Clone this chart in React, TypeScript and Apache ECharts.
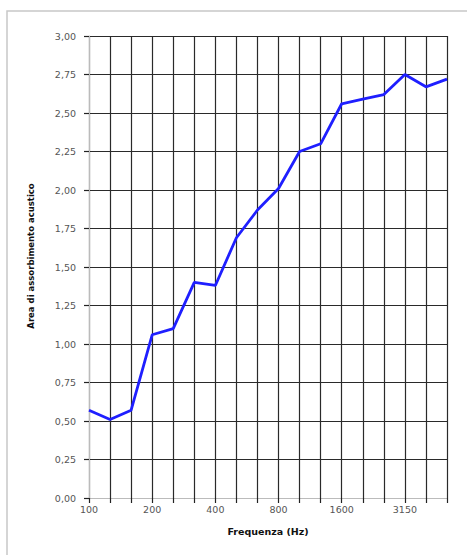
import React, { useEffect, useRef } from "react";
import * as echarts from "echarts";

const frequencies: string[] = [
  "100", "125", "160", "200", "250", "315", "400", "500", "630",
  "800", "1000", "1250", "1600", "2000", "2500", "3150", "4000", "5000",
];
const absorption: number[] = [
  0.57, 0.51, 0.57, 1.06, 1.1, 1.4, 1.38, 1.69, 1.87,
  2.01, 2.25, 2.3, 2.56, 2.59, 2.62, 2.75, 2.67, 2.72,
];
const yMin = 0;
const yMax = 3;
const yStep = 0.25;
const xTitle = "Frequenza (Hz)";
const yTitle = "Area di assorbimento acustico";

export default function App() {
  const ref = useRef<HTMLDivElement>(null);
  useEffect(() => {
    if (!ref.current) return;
    const chart = echarts.init(ref.current, null, { renderer: "svg" });
    const font = "'DejaVu Sans', sans-serif";
    chart.setOption({
      animation: false,
      backgroundColor: "#ffffff",
      graphic: [
        {
          type: "rect",
          shape: { x: 7, y: 11, width: 480, height: 570 },
          style: { fill: "none", stroke: "#c8c8c8", lineWidth: 1.5 },
          silent: true,
          z: -1,
        },
        {
          type: "text",
          x: 31,
          y: 256,
          rotation: Math.PI / 2,
          style: {
            text: yTitle,
            fontFamily: font,
            fontSize: 8.5,
            fontWeight: "bold",
            fill: "#111",
            align: "center",
            verticalAlign: "middle",
          },
          silent: true,
        },
      ],
      grid: { left: 89, top: 36, right: 20, bottom: 57 },
      xAxis: {
        type: "category",
        data: frequencies,
        boundaryGap: false,
        name: xTitle,
        nameLocation: "middle",
        nameGap: 28,
        nameTextStyle: { fontFamily: font, fontSize: 9.5, fontWeight: "bold", color: "#111" },
        axisLine: { show: true, lineStyle: { color: "#bbbbbb", width: 1 } },
        axisTick: { show: true, interval: 0, length: 5, lineStyle: { color: "#222", width: 1.2 } },
        axisLabel: {
          interval: 2,
          fontFamily: font,
          fontSize: 9.5,
          color: "#555",
          margin: 6,
        },
        splitLine: { show: true, interval: 0, lineStyle: { color: "#2a2a2a", width: 1.2 } },
      },
      yAxis: {
        type: "value",
        min: yMin,
        max: yMax,
        interval: yStep,
        axisLine: { show: true, lineStyle: { color: "#bbbbbb", width: 1 } },
        axisTick: { show: true, length: 5, lineStyle: { color: "#222", width: 1.2 } },
        axisLabel: {
          fontFamily: font,
          fontSize: 9.5,
          color: "#555",
          margin: 13,
          formatter: (v: number) => v.toFixed(2).replace(".", ","),
        },
        splitLine: { show: true, lineStyle: { color: "#2a2a2a", width: 1.2 } },
      },
      series: [
        {
          type: "line",
          data: absorption,
          showSymbol: false,
          symbol: "none",
          lineStyle: { color: "#1f1fff", width: 2.8 },
          z: 5,
        },
      ],
    });
    return () => chart.dispose();
  }, []);
  return (
    <div
      ref={ref}
      style={{ position: "fixed", left: 0, top: 0, width: 467, height: 555 }}
    />
  );
}
